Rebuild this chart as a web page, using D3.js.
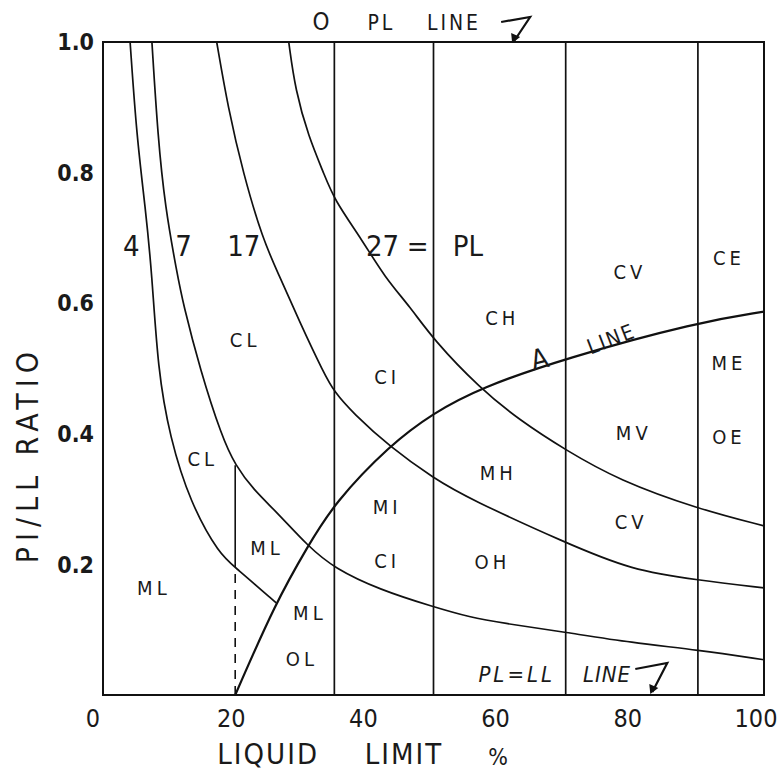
<!DOCTYPE html>
<head>
    <meta charset="utf-8">
    <script src="https://d3js.org/d3.v7.min.js"></script>
    <style>
        body { margin: 0; background: #fff; }
        text { fill: #1a1a1a; font-family: "DejaVu Sans Condensed", "DejaVu Sans", sans-serif; }
    </style>
</head>

<body>
    <div id="chart"></div>
</body>

<script>
    // axis ticks
    const llTicks = [0, 20, 40, 60, 80, 100];
    const ratioTicks = [0.2, 0.4, 0.6, 0.8, 1.0];
    const ratioTickText = ["0.2", "0.4", "0.6", "0.8", "1.0"];

    // liquid limit boundaries (full height)
    const llBounds = [35, 50, 70, 90];

    // curves: [LL, PI/LL]
    const curve4 = [[4.1,1.0],[5.1,0.855],[6.4,0.747],[7.4,0.646],[8.3,0.498],[10.1,0.395],[13.2,0.294],[17.7,0.214],[20,0.196],[26.2,0.141]];
    const curve7 = [[7.4,1.0],[8.3,0.855],[9.4,0.747],[11.2,0.646],[12.1,0.6],[14.7,0.498],[18,0.395],[20,0.352],[22.8,0.314],[26.4,0.279],[31,0.228],[35,0.194],[41.9,0.161],[50,0.135],[55.5,0.119],[60.5,0.11],[70,0.096],[80,0.08],[90,0.069],[100,0.054]];
    const curve17 = [[17.2,1.0],[18.9,0.9],[21.2,0.799],[24.2,0.697],[26.5,0.646],[29.8,0.57],[33.4,0.493],[35,0.464],[37.8,0.432],[43.4,0.38],[50,0.332],[55.5,0.3],[70,0.233],[80,0.191],[90,0.176],[100,0.164]];
    const curve27 = [[28.1,1.0],[29.1,0.926],[31.1,0.855],[33.4,0.799],[35,0.758],[39.2,0.697],[42.6,0.64],[46.5,0.594],[50,0.544],[57,0.47],[63,0.421],[70,0.375],[78,0.329],[90,0.285],[100,0.259]];
    const aLine = [[20,0],[26.1,0.141],[31,0.228],[35,0.294],[43.4,0.383],[50,0.432],[57,0.47],[70,0.516],[90,0.571],[100,0.587]];

    // LL = 20 divider: dashed below the 4 curve, solid up to the 7 curve
    const ll20Dashed = [[20,0],[20,0.196]];
    const ll20Solid = [[20,0.196],[20,0.352]];

    // soil group labels [text, LL, ratio]
    const groups = [
        ["CL",21.5,0.544],["CL",15.1,0.361],["ML",7.7,0.164],["ML",24.8,0.225],
        ["ML",31.3,0.126],["OL",30.1,0.055],["MI",43,0.288],["CI",43,0.205],
        ["CI",43,0.487],["CH",60.4,0.577],["MH",59.8,0.34],["OH",58.9,0.204],
        ["CV",79.7,0.648],["MV",80.3,0.401],["CV",79.9,0.265],
        ["CE",94.7,0.669],["ME",94.7,0.508],["OE",94.7,0.395]
    ];

    // curve numbers along the top [text, LL]
    const curveNames = [["4",4.3],["7",12.2],["17",21.3],["27",42.3],["=",47.6],["PL",55.2]];

    const W = 781, H = 772;
    const x = d3.scaleLinear().domain([0, 100]).range([103, 764]);
    const y = d3.scaleLinear().domain([0, 1]).range([695, 42]);

    const svg = d3.select("#chart").append("svg")
        .attr("width", W).attr("height", H);

    const line = d3.line()
        .x(d => x(d[0]))
        .y(d => y(d[1]))
        .curve(d3.curveBasis);
    const straight = d3.line().x(d => x(d[0])).y(d => y(d[1]));

    // frame
    svg.append("rect")
        .attr("x", x(0)).attr("y", y(1))
        .attr("width", x(100) - x(0)).attr("height", y(0) - y(1))
        .attr("fill", "none").attr("stroke", "#111").attr("stroke-width", 2);

    // vertical boundaries
    svg.selectAll(".bound")
        .data(llBounds)
        .join("line")
        .attr("x1", d => x(d)).attr("x2", d => x(d))
        .attr("y1", y(0)).attr("y2", y(1))
        .attr("stroke", "#111").attr("stroke-width", 1.7);

    svg.append("path").attr("d", straight(ll20Dashed))
        .attr("stroke", "#111").attr("stroke-width", 1.6).attr("stroke-dasharray", "9,7");
    svg.append("path").attr("d", straight(ll20Solid))
        .attr("stroke", "#111").attr("stroke-width", 1.6);

    // PI curves
    svg.selectAll(".curve")
        .data([curve4, curve7, curve17, curve27])
        .join("path")
        .attr("d", line)
        .attr("fill", "none").attr("stroke", "#111").attr("stroke-width", 1.7);

    // A line
    svg.append("path").attr("d", line(aLine))
        .attr("fill", "none").attr("stroke", "#111").attr("stroke-width", 2.2);

    // y ticks
    svg.selectAll(".ytick")
        .data(ratioTicks)
        .join("text")
        .attr("x", x(0) - 9).attr("y", d => y(d))
        .attr("dy", "0.36em")
        .attr("text-anchor", "end")
        .style("font-size", "23px").style("font-weight", "bold")
        .text((d, i) => ratioTickText[i]);

    // x ticks
    svg.selectAll(".xtick")
        .data(llTicks)
        .join("text")
        .attr("x", d => d === 0 ? x(d) - 10 : x(d) - (d === 100 ? 8 : 4))
        .attr("y", y(0) + 32)
        .attr("text-anchor", "middle")
        .style("font-size", "25px")
        .text(d => d);

    // axis titles
    const xt = svg.append("text").attr("y", y(0) + 69).style("font-size", "29px").style("letter-spacing", "2px");
    xt.append("tspan").attr("x", x(17.3)).text("LIQUID");
    xt.append("tspan").attr("x", x(39.6)).text("LIMIT");
    xt.append("tspan").attr("x", x(58.3)).attr("dy", 1).style("font-size", "23px").text("%");

    svg.append("text")
        .attr("transform", `translate(38, ${y(0.368)}) rotate(-90)`)
        .attr("text-anchor", "middle")
        .style("font-size", "30px").style("letter-spacing", "6px")
        .text("PI/LL  RATIO");

    // group labels
    svg.selectAll(".grp")
        .data(groups)
        .join("text")
        .attr("x", d => x(d[1])).attr("y", d => y(d[2]))
        .attr("dy", "0.36em")
        .attr("text-anchor", "middle")
        .style("font-size", "20px").style("letter-spacing", "4px")
        .text(d => d[0]);

    // curve numbers
    svg.selectAll(".cn")
        .data(curveNames)
        .join("text")
        .attr("x", d => x(d[1])).attr("y", y(1) + 214)
        .attr("text-anchor", "middle")
        .style("font-size", "29px")
        .text(d => d[0]);

    // A LINE label
    svg.append("text")
        .attr("transform", `translate(${x(66.4)}, ${y(0.5)}) rotate(-14)`)
        .attr("text-anchor", "middle")
        .style("font-size", "28px")
        .text("A");
    svg.append("text")
        .attr("transform", `translate(${x(77.3)}, ${y(0.535)}) rotate(-21)`)
        .attr("text-anchor", "middle")
        .style("font-size", "21px").style("letter-spacing", "2px")
        .text("LINE");

    // top note: O PL LINE with hooked arrow
    const topNote = svg.append("text").attr("y", y(1) - 12).style("font-size", "21px").style("letter-spacing", "3px");
    topNote.append("tspan").attr("x", x(31.7)).style("font-size", "24px").text("O");
    topNote.append("tspan").attr("x", x(40)).text("PL");
    topNote.append("tspan").attr("x", x(49)).text("LINE");
    const ax = x(62.2), ay = y(1);
    svg.append("path")
        .attr("d", `M${ax - 13},${ay - 20} L${ax + 16},${ay - 25} L${ax},${ay - 1}`)
        .attr("fill", "none").attr("stroke", "#111").attr("stroke-width", 2.2);
    svg.append("path")
        .attr("d", `M${ax - 2},${ay + 1} L${ax - 3},${ay - 9} L${ax + 6},${ay - 5} Z`)
        .attr("fill", "#111");

    // bottom note: PL=LL LINE with hooked arrow
    const botNote = svg.append("text").attr("y", y(0) - 13).style("font-size", "22px").style("font-style", "italic");
    botNote.append("tspan").attr("x", x(56.8)).style("letter-spacing", "3px").text("PL=LL");
    botNote.append("tspan").attr("x", x(72.6)).style("letter-spacing", "1px").text("LINE");
    const bx = x(83.1), by = y(0);
    svg.append("path")
        .attr("d", `M${bx - 17},${by - 26} L${bx + 15},${by - 32} L${bx},${by - 3}`)
        .attr("fill", "none").attr("stroke", "#111").attr("stroke-width", 2.2);
    svg.append("path")
        .attr("d", `M${bx - 2},${by - 1} L${bx - 3},${by - 11} L${bx + 6},${by - 7} Z`)
        .attr("fill", "#111");
</script>
</html>
